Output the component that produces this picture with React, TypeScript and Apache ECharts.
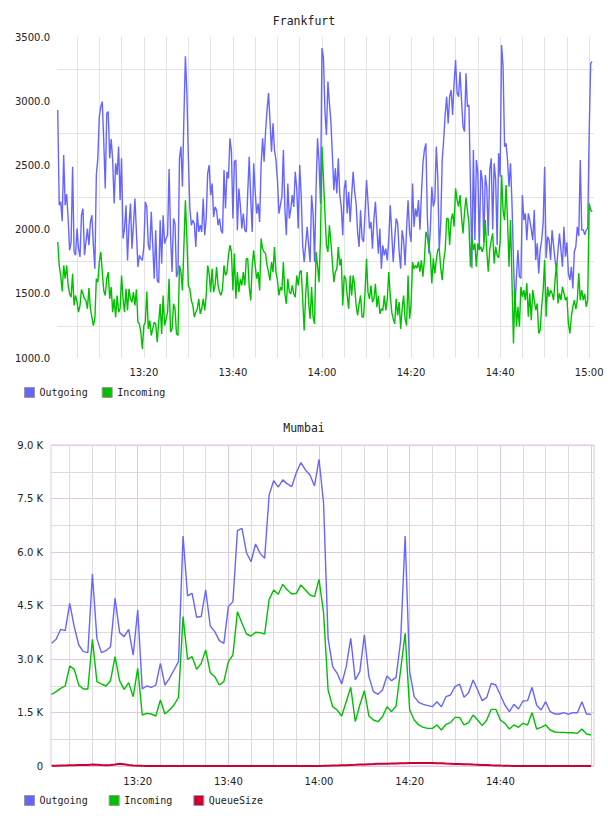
import React, { useEffect, useRef } from "react";
import * as echarts from "echarts";

// ---- Frankfurt: 20 s samples starting 13:00:40 ----
const frankfurtStart = "13:00:40";
const frankfurtStepSeconds = 20;
const frankfurtOutgoing = [
  2932, 2190, 2216, 2065, 2581, 2190, 2276, 2087, 1839, 1904, 2490, 1826, 1800, 2008, 1852, 1787, 2112, 2164, 1800, 1904,
  2008, 1878, 2060, 2112, 1878, 1695, 2425, 2555, 2880, 2958, 2997, 2685, 2320, 2906, 2919, 2555, 2706, 2542, 2203, 2516,
  2425, 2646, 2229, 2555, 1930, 2008, 2190, 1760, 2034, 2203, 1852, 2034, 2242, 1982, 1708, 1800, 1774, 1760, 1865, 2216,
  2177,
  1878, 1839, 2138, 1878, 1617, 1995, 1604, 1586, 2073, 1734, 2112, 1891, 1930, 1956, 2471, 1956, 1669, 2086, 2047, 1630,
  1669, 2555, 2646, 2333, 2880, 3349, 3063, 2555, 2164, 2034, 2073, 2047, 1865, 2138, 1982, 2034, 1982, 2242, 1956, 2086,
  2438, 2503, 2268, 2359, 2099, 2177, 2151, 2034, 2086, 1995, 1969, 2464, 2164, 2451, 2399, 2711, 2607, 2086, 2529,
  2542, 1995, 2320, 2190, 2008, 2125, 1995, 1982, 2294, 2568, 2242, 1982, 2516, 2294, 2125, 2203, 2060, 2503, 2711, 2529,
  2763, 2932, 3063, 2841, 2607, 2828, 2620, 2542, 2386, 2125, 2190, 2255, 2620, 2164, 1956, 2359, 2086, 2164, 2268, 2177,
  2451, 2320, 2008, 2503, 2268, 1878, 1747, 1878, 2021, 1878, 1747, 2268, 2125, 1747, 2307, 2711, 2529, 2203, 3414, 3336,
  2919, 2737,
  3154, 2984, 2841, 2581, 2307, 2477, 2281, 2555, 2268, 2177, 1956, 2320, 2386, 2125, 2294, 2060, 2268, 2451, 2294, 2203,
  1982, 1865, 2151, 1930, 1904, 2125, 2386, 2216, 2008, 2060, 1852, 2086, 2216, 2008, 1813, 2008, 1695, 1878, 1799, 1852,
  1760, 1930, 2190, 1969, 1747, 1930, 2086, 2047, 1826, 1695, 1995, 1917, 1721, 2008, 2229, 1982, 1904, 2359, 2021, 2164,
  2100, 2230, 2000, 2280, 2516, 2620, 2672, 2100, 1815, 2000, 2334, 2180, 2230, 2646, 2412, 1841, 2050, 2542, 2700,
  2900, 3035, 2827, 3035, 3087, 2892, 3139, 3321, 3061, 3035, 3230, 3009, 2801, 2763, 3217, 2957, 2970, 2360,
  1700, 2620, 1920, 2542, 2438, 1850, 2464, 2386, 1900, 2425, 2334, 1950, 2464, 2555, 2000, 2516, 2386, 1880, 2594,
  2412, 3438, 3269, 2646, 2672, 2542, 2334, 2516,
  2204, 1763, 1386, 1633, 1841, 1633, 1620, 2270, 2074, 2126, 1918, 2126, 2074, 2000, 1918, 2152, 1763, 1893, 1659, 1841,
  1918, 2050, 2490, 1776, 1945, 1918, 1763, 1996, 1880, 1763, 1685, 1841, 1970, 1841, 1711, 2022, 1789, 1900, 1659, 1607,
  1711, 1542, 1828, 1867, 2022, 1950, 2542, 1996, 2000, 1960, 1996, 2009, 2750, 3295, 3308,
];
const frankfurtIncoming = [
  1904, 1721, 1643, 1518, 1721, 1617, 1721, 1565, 1500, 1474, 1656, 1409, 1487, 1435, 1357, 1409, 1534, 1500, 1461, 1448,
  1383, 1544, 1383, 1318, 1253, 1305, 1617, 1591, 1747, 1826, 1669, 1526, 1487, 1617, 1669, 1461, 1552, 1357, 1461, 1318,
  1487, 1357, 1383, 1643, 1461, 1357, 1539, 1370, 1539, 1461, 1435, 1513, 1409, 1534, 1279, 1266, 1200, 1070, 1253, 1279,
  1518,
  1227, 1292, 1175, 1227, 1279, 1266, 1123, 1279, 1422, 1188, 1487, 1253, 1305, 1357, 1617, 1201, 1227, 1422, 1383, 1188,
  1175, 1721, 1669, 1526, 1878, 2229, 1930, 1565, 1539, 1448, 1409, 1318, 1357, 1383, 1461, 1344, 1383, 1461, 1370, 1487,
  1721, 1656, 1513, 1695, 1513, 1565, 1708, 1565, 1513, 1487, 1539, 1721, 1643, 1669, 1799, 1878, 1826, 1526, 1813,
  1461, 1669, 1513, 1617, 1565, 1669, 1565, 1773, 1773, 1552, 1448, 1721, 1839, 1721, 1617, 1669, 1526, 1930, 1851, 1826,
  1813, 1721, 1669, 1604, 1747, 1669, 1865, 1669, 1604, 1487, 1552, 1526, 1747, 1500, 1422, 1617, 1513, 1500, 1565, 1500,
  1474, 1643, 1565, 1669, 1682, 1461, 1214, 1487, 1669, 1435, 1305, 1552, 1318, 1266, 1826, 1721, 1591, 1930, 2646, 2399,
  2125, 1878,
  1826, 2034, 1904, 1747, 1591, 1669, 1695, 1865, 1721, 1773, 1409, 1643, 1617, 1487, 1383, 1643, 1487, 1643, 1565, 1409,
  1331, 1422, 1487, 1318, 1318, 1513, 1773, 1513, 1461, 1565, 1435, 1461, 1578, 1396, 1487, 1344, 1383, 1370, 1487, 1370,
  1461, 1669, 1487, 1357, 1305, 1266, 1461, 1331, 1435, 1227, 1383, 1487, 1305, 1253, 1643, 1305, 1409, 1747, 1695, 1721,
  1700, 1750, 1672, 1763, 1633, 1763, 1983, 1944, 1867, 1802, 1581, 1776, 1659, 1763, 1841, 1854, 1700, 1607, 1760,
  1841, 2087, 2087, 1880, 2074, 2126, 2022, 2321, 2230, 2180, 2269, 2100, 1970, 2126, 2250, 2152, 2050, 1711,
  1944, 1841, 1893, 1711, 1893, 1841, 1867, 1828, 1867, 2074, 1841, 1672, 1841, 1918, 1970, 1737, 1867, 1800, 1780,
  1900, 2425, 2150, 2074, 2347, 2074, 1711, 2074,
  1600, 1114, 1529, 1244, 1399, 1244, 1555, 1477, 1529, 1451, 1581, 1321, 1503, 1295, 1529, 1451, 1373, 1425, 1192, 1218,
  1400, 1529, 1763, 1321, 1555, 1477, 1529, 1503, 1451, 1600, 1737, 1425, 1503, 1451, 1555, 1503, 1451, 1477, 1269, 1192,
  1321, 1399, 1451, 1380, 1451, 1659, 1451, 1529, 1451, 1500, 1399, 1450, 2204, 2152, 2139,
];
const frankfurtTimeLabels = ["13:20", "13:40", "14:00", "14:20", "14:40", "15:00"];
const frankfurtValueLabels = [1000, 1500, 2000, 2500, 3000, 3500];
const frankfurtValueGrid = [1250, 1750, 2250, 2750, 3250];

// ---- Mumbai: one sample per minute starting 13:01 ----
const mumbaiStart = "13:01:00";
const mumbaiStepSeconds = 60;
const mumbaiOutgoing = [
  3440, 3552, 3832, 3794, 4561, 3900, 3393, 3206, 3178, 5384,
  3571, 3178, 3234, 3346, 4701, 3739, 3627, 3832, 3112, 4374,
  2160, 2243, 2206, 2271, 2878, 2271, 2458, 2692, 2926, 6449,
  4767, 4841, 4170, 4190, 4935, 3925, 3766, 3514, 3440, 4468,
  4608, 6597, 6663, 5980, 5728, 6223, 5961, 5821, 7601, 8003,
  7816, 8022, 7910, 7835, 8228, 8509, 8300, 8159, 7853, 8600,
  7366, 3580, 2785, 2598, 2299, 2785, 3580, 2412, 2645, 3674,
  2505, 2084, 2009, 2131, 2523, 2392, 2486, 3500, 6449, 2645,
  1944, 1785, 1729, 1691, 1663, 1803, 1663, 1944, 1990, 2224,
  2299, 1925, 2056, 2412, 2131, 1832, 1925, 2318, 2271, 1990,
  1710, 1523, 1729, 1598, 1822, 1832, 2206, 1710, 1570, 1803,
  1523, 1458, 1458, 1495, 1448, 1495, 1495, 1803, 1458, 1448,
];
const mumbaiIncoming = [
  2009, 2084, 2178, 2243, 2804, 2710, 2271, 2160, 2160, 3552,
  2365, 2299, 2243, 2392, 3066, 2392, 2150, 2337, 1944, 2739,
  1430, 1477, 1458, 1402, 1850, 1458, 1570, 1710, 1925, 4187,
  2991, 3066, 2710, 2878, 3252, 2617, 2505, 2271, 2365, 2926,
  3112, 4327, 4000, 3701, 3645, 3748, 3739, 3701, 4673, 4935,
  4813, 5094, 4935, 4823, 4842, 5076, 4935, 4795, 4748, 5234,
  4300, 2131, 1663, 1570, 1402, 1803, 2206, 1243, 1710, 2112,
  1402, 1290, 1243, 1383, 1663, 1523, 1682, 2692, 3720, 1570,
  1290, 1150, 1084, 1056, 1056, 1150, 1009, 1168, 1215, 1364,
  1364, 1150, 1215, 1430, 1290, 1131, 1290, 1589, 1589, 1290,
  1196, 1037, 1150, 1084, 1196, 1150, 1495, 1037, 1084, 1150,
  1009, 953, 944, 944, 934, 934, 916, 1037, 897, 869,
];
const mumbaiQueueSize = [
  5, 8, 12, 14, 20, 23, 25, 27, 31, 40,
  36, 26, 21, 30, 44, 61, 49, 31, 14, 8,
  5, 3, 2, 2, 3, 2, 2, 1, 2, 2,
  2, 3, 2, 2, 2, 1, 2, 2, 3, 2,
  2, 2, 1, 2, 2, 2, 3, 2, 2, 2,
  2, 2, 2, 1, 2, 2, 2, 3, 2, 2,
  4, 7, 11, 14, 21, 24, 31, 34, 41, 44,
  51, 54, 61, 63, 66, 71, 73, 76, 79, 81,
  83, 84, 86, 84, 82, 79, 76, 70, 66, 59,
  56, 49, 46, 39, 36, 29, 26, 19, 16, 11,
  8, 5, 3, 2, 2, 1, 2, 2, 2, 1,
  2, 2, 1, 2, 2, 2, 1, 2, 2, 2,
];
const mumbaiTimeLabels = ["13:20", "13:40", "14:00", "14:20", "14:40"];
const mumbaiValueLabels = [0, 1500, 3000, 4500, 6000, 7500, 9000];
const mumbaiValueGrid = [0, 750, 1500, 2250, 3000, 3750, 4500, 5250, 6000, 6750, 7500, 8250, 9000];

// minute-of-day helpers for the time axes
const toMinutes = (hms: string) => {
  const [h, m, s] = hms.split(":").map(Number);
  return h * 60 + m + (s || 0) / 60;
};
const fmtTime = (v: number) => {
  const t = Math.round(v);
  const h = Math.floor(t / 60);
  const m = t % 60;
  return `${h}:${m < 10 ? "0" : ""}${m}`;
};
const toSeries = (values: number[], start: string, stepSeconds: number) => {
  const t0 = toMinutes(start);
  return values.map((v, i) => [t0 + (i * stepSeconds) / 60, v]);
};

// vertical grid every five minutes
const fiveMinuteGrid: number[] = [];
for (let t = toMinutes("13:05"); t <= toMinutes("15:00") + 0.01; t += 5) fiveMinuteGrid.push(t);

const MONO = "'DejaVu Sans Mono', monospace";
const SANS = "'DejaVu Sans', Verdana, sans-serif";
const BLUE = "#6666ff";
const GREEN = "#00c000";
const RED = "#cc0033";
const GRAY = "#e3e3e3";
const MGRAY = "#dcdcdc";
const PINK = "#e2c8e2";

const labelStyle = { fontFamily: SANS, fontSize: 10, color: "#222" };

const legendBase = {
  icon: "rect",
  itemWidth: 10,
  itemHeight: 10,
  padding: 0,
  selectedMode: false,
  itemStyle: { borderColor: "#999", borderWidth: 1 },
  textStyle: { fontFamily: MONO, fontSize: 10, color: "#222" },
};

const lineSeries = (name: string, color: string, data: number[][], idx: number, width = 1.4) => ({
  name,
  type: "line",
  xAxisIndex: idx,
  yAxisIndex: idx,
  data,
  symbol: "none",
  color,
  lineStyle: { color, width },
  emphasis: { disabled: true },
  silent: true,
});

const option = {
  animation: false,
  backgroundColor: "#ffffff",
  title: [
    {
      text: "Frankfurt",
      left: "center",
      top: 15,
      padding: 0,
      textStyle: { fontFamily: MONO, fontSize: 11.5, fontWeight: "normal", color: "#222" },
    },
    {
      text: "Mumbai",
      left: "center",
      top: 422,
      padding: 0,
      textStyle: { fontFamily: MONO, fontSize: 11.5, fontWeight: "normal", color: "#222" },
    },
  ],
  legend: [
    { ...legendBase, data: ["Outgoing", "Incoming"], left: 24, top: 387, itemGap: 14 },
    { ...legendBase, data: ["Outgoing", "Incoming", "QueueSize"], left: 24, top: 795, itemGap: 21 },
  ],
  grid: [
    { left: 57, top: 37, width: 537, height: 321, show: false },
    { left: 51, top: 445, width: 543, height: 321, show: true, borderColor: PINK, borderWidth: 1 },
  ],
  xAxis: [
    {
      type: "value",
      gridIndex: 0,
      min: toMinutes("13:00:30"),
      max: toMinutes("15:01:05"),
      axisLine: { show: false },
      axisTick: { show: false, customValues: fiveMinuteGrid },
      axisLabel: {
        ...labelStyle,
        margin: 9,
        customValues: frankfurtTimeLabels.map(toMinutes),
        formatter: fmtTime,
      },
      splitLine: { show: true, lineStyle: { color: GRAY, width: 1 } },
    },
    {
      type: "value",
      gridIndex: 1,
      min: toMinutes("13:00:52"),
      max: toMinutes("15:00:40"),
      axisLine: { show: false },
      axisTick: { show: false, customValues: fiveMinuteGrid },
      axisLabel: {
        ...labelStyle,
        margin: 10,
        customValues: mumbaiTimeLabels.map(toMinutes),
        formatter: fmtTime,
      },
      splitLine: { show: true, lineStyle: { color: [MGRAY, MGRAY, MGRAY, PINK], width: 1 } },
    },
  ],
  yAxis: [
    {
      type: "value",
      gridIndex: 0,
      min: 1000,
      max: 3500,
      axisLine: { show: false },
      axisTick: { show: false, customValues: frankfurtValueGrid },
      axisLabel: {
        ...labelStyle,
        margin: 7,
        customValues: frankfurtValueLabels,
        formatter: (v: number) => v.toFixed(1),
      },
      splitLine: { show: true, lineStyle: { color: GRAY, width: 1 } },
    },
    {
      type: "value",
      gridIndex: 1,
      min: 0,
      max: 9000,
      axisLine: { show: false },
      axisTick: { show: false, customValues: mumbaiValueGrid },
      axisLabel: {
        ...labelStyle,
        margin: 8,
        customValues: mumbaiValueLabels,
        formatter: (v: number) => (v === 0 ? "0" : `${(v / 1000).toFixed(1)} K`),
      },
      splitLine: { show: true, lineStyle: { color: [PINK, MGRAY], width: 1 } },
    },
  ],
  series: [
    lineSeries("Outgoing", BLUE, toSeries(frankfurtOutgoing, frankfurtStart, frankfurtStepSeconds), 0),
    lineSeries("Incoming", GREEN, toSeries(frankfurtIncoming, frankfurtStart, frankfurtStepSeconds), 0),
    lineSeries("Outgoing", BLUE, toSeries(mumbaiOutgoing, mumbaiStart, mumbaiStepSeconds), 1),
    lineSeries("Incoming", GREEN, toSeries(mumbaiIncoming, mumbaiStart, mumbaiStepSeconds), 1),
    lineSeries("QueueSize", RED, toSeries(mumbaiQueueSize, mumbaiStart, mumbaiStepSeconds), 1, 2),
  ],
};

export default function App() {
  const ref = useRef<HTMLDivElement>(null);
  useEffect(() => {
    if (!ref.current) return;
    const chart = echarts.init(ref.current, null, { renderer: "svg" });
    chart.setOption(option as any);
    return () => chart.dispose();
  }, []);
  return (
    <div
      ref={ref}
      style={{ position: "absolute", left: 0, top: 0, width: 608, height: 816, background: "#fff" }}
    />
  );
}
